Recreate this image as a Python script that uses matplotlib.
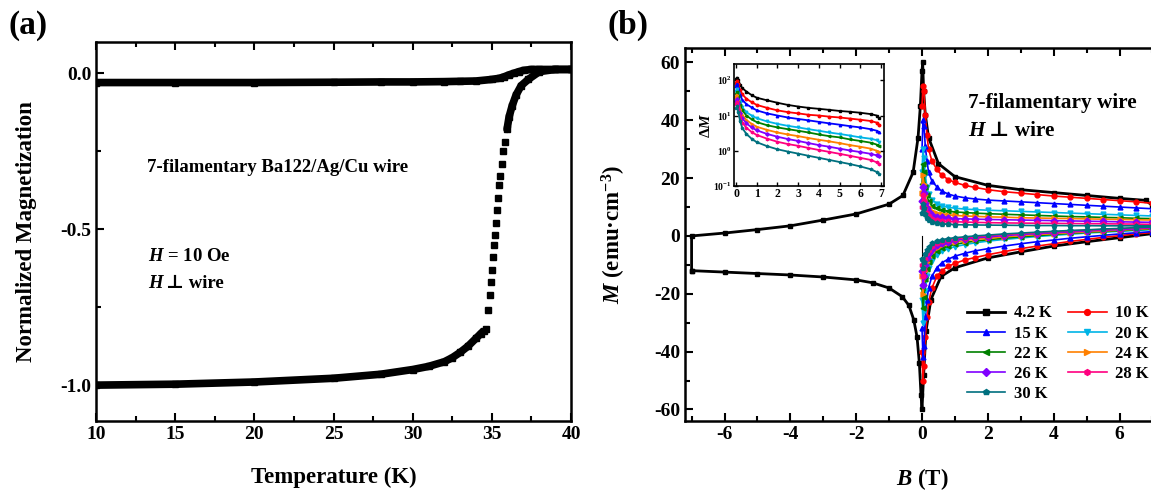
import numpy as np
import matplotlib
matplotlib.use("Agg")
import matplotlib.pyplot as plt
from matplotlib.ticker import MultipleLocator, FormatStrFormatter, LogLocator, NullLocator

plt.rcParams['font.family'] = ['Liberation Serif', 'DejaVu Serif']
plt.rcParams['font.weight'] = 'bold'
plt.rcParams['axes.labelweight'] = 'bold'
plt.rcParams['axes.unicode_minus'] = False
plt.rcParams['mathtext.fontset'] = 'custom'
plt.rcParams['mathtext.rm'] = 'Liberation Serif:bold'
plt.rcParams['mathtext.it'] = 'Liberation Serif:italic:bold'
plt.rcParams['mathtext.bf'] = 'Liberation Serif:bold'

# ---------- (a) normalized magnetization vs temperature ----------
fc_T = [10, 15, 20, 25, 28, 30, 32, 33, 34, 35, 35.5, 35.8, 36.1, 36.4, 36.7, 37, 37.5, 38, 39, 40]
fc_M = [-0.03, -0.03, -0.03, -0.029, -0.028, -0.028, -0.027, -0.026, -0.025, -0.02, -0.016,
        -0.011, -0.005, 0.0, 0.005, 0.009, 0.012, 0.012, 0.012, 0.012]

zfc_T = [10, 15, 20, 25, 28, 30, 31, 32, 32.5, 33, 33.5, 34, 34.3, 34.5,
         34.64, 34.76, 34.9, 34.95, 35.0, 35.08, 35.14, 35.2, 35.27, 35.33, 35.4, 35.46,
         35.52, 35.65, 35.7, 35.84, 35.96, 36.09, 36.28, 36.53, 36.85,
         37.3, 38.0, 39.0, 40.0]
zfc_M = [-1.0, -0.997, -0.99, -0.978, -0.965, -0.95, -0.94, -0.925, -0.912, -0.895, -0.875, -0.85, -0.835, -0.825,
         -0.82, -0.76, -0.71, -0.67, -0.63, -0.59, -0.55, -0.52, -0.48, -0.44, -0.40, -0.36,
         -0.33, -0.29, -0.25, -0.22, -0.18, -0.14, -0.105, -0.07, -0.04,
         -0.02, 0.005, 0.012, 0.012]

# ---------- (b) M-B loops ----------
# 4.2 K full loop (field swept -7 -> 7 lower branch, 7 -> -7 upper branch)
blk_low_B = [-7, -6, -5, -4, -3, -2, -1.5, -1, -0.6, -0.4, -0.25, -0.15, -0.08, -0.03, 0.0,
             0.05, 0.12, 0.27, 0.58, 1, 2, 3, 4, 5, 6, 7]
blk_low_M = [-12, -12.5, -13, -13.5, -14.2, -15.2, -16.2, -18, -21, -24, -29, -35, -44, -55, -60,
             -48, -33, -22, -14, -11, -7.6, -5.5, -3.5, -2, -0.6, 0.8]
blk_up_B = [7, 6.8, 6, 5, 4, 3, 2, 1, 0.5, 0.2, 0.1, 0.05, 0.02, 0.0,
            -0.05, -0.12, -0.27, -0.58, -1, -2, -3, -4, -5, -6, -7]
blk_up_M = [10.5, 12.3, 13, 14, 15, 16, 17.5, 20.5, 25, 34, 42, 50, 60, 57,
            45, 34, 22, 14, 11, 7.6, 5.5, 3.5, 2.2, 1, 0]
virgin_B = [0.0, 0.0]
virgin_M = [0.0, -9.0]

# colored loops, B >= 0 only
B_grid = [0.0, 0.03, 0.06, 0.1, 0.15, 0.2, 0.3, 0.45, 0.6, 0.8, 1.0, 1.3, 1.6, 2.0,
          2.5, 3.0, 3.5, 4.0, 4.5, 5.0, 5.5, 6.0, 6.5, 7.0]

up_10K = [45, 52, 50, 42, 35, 30, 26, 23, 21, 19.5, 18.5, 17.5, 16.8, 16.0, 15.3, 14.8, 14.3, 13.8, 13.4, 13.0, 12.6, 12.2, 11.8, 11.3]
up_15K = [30, 40, 38, 31, 26, 22, 19, 17, 15.5, 14.5, 13.8, 13.2, 12.8, 12.4, 12.1, 11.8, 11.5, 11.2, 10.9, 10.6, 10.3, 10.0, 9.7, 9.4]
up_20K = [22, 30, 27, 21, 17, 14.5, 12.5, 11.2, 10.4, 9.9, 9.6, 9.3, 9.1, 8.9, 8.7, 8.5, 8.3, 8.1, 7.9, 7.7, 7.5, 7.3, 7.1, 6.9]
up_22K = [18, 25, 22, 17, 14, 12, 10.5, 9.5, 9.0, 8.6, 8.3, 8.1, 7.9, 7.7, 7.5, 7.3, 7.1, 6.9, 6.7, 6.6, 6.4, 6.3, 6.1, 6.0]
up_24K = [15, 21, 18, 14, 11.5, 10, 8.8, 8.0, 7.6, 7.3, 7.1, 6.9, 6.8, 6.6, 6.5, 6.3, 6.2, 6.1, 6.0, 5.9, 5.8, 5.7, 5.6, 5.5]
up_26K = [12, 17, 15, 11.5, 9.5, 8.3, 7.3, 6.7, 6.4, 6.2, 6.0, 5.9, 5.8, 5.7, 5.6, 5.5, 5.4, 5.3, 5.2, 5.1, 5.0, 4.9, 4.8, 4.7]
up_28K = [10, 14, 12, 9.5, 7.8, 6.8, 6.0, 5.5, 5.2, 5.0, 4.9, 4.8, 4.7, 4.6, 4.5, 4.45, 4.4, 4.35, 4.3, 4.25, 4.2, 4.15, 4.1, 4.0]
up_30K = [8, 11, 9.5, 7.5, 6.2, 5.4, 4.8, 4.4, 4.2, 4.0, 3.9, 3.85, 3.8, 3.75, 3.7, 3.65, 3.6, 3.6, 3.55, 3.55, 3.5, 3.5, 3.5, 3.5]

low_10K = [-40, -50, -45, -35, -28, -23, -18, -14, -12, -10.5, -9.5, -8.3, -7.5, -6.5, -5.4, -4.4, -3.5, -2.7, -1.9, -1.2, -0.5, 0.1, 0.7, 1.2]
low_15K = [-32, -42, -38, -28, -22, -18, -14, -11, -9.3, -8, -7, -6, -5.2, -4.4, -3.5, -2.7, -2, -1.4, -0.8, -0.3, 0.2, 0.7, 1.1, 1.5]
low_20K = [-22, -30, -26, -19, -14, -11, -8.5, -6.5, -5.3, -4.4, -3.7, -3, -2.4, -1.8, -1.2, -0.7, -0.2, 0.2, 0.6, 1.0, 1.3, 1.6, 1.9, 2.2]
low_22K = [-18, -25, -21, -15, -11.5, -9, -7, -5.3, -4.3, -3.5, -2.9, -2.3, -1.8, -1.3, -0.8, -0.3, 0.1, 0.5, 0.9, 1.2, 1.5, 1.8, 2.1, 2.4]
low_24K = [-14, -20, -17, -12, -9, -7.2, -5.5, -4.2, -3.3, -2.6, -2.1, -1.6, -1.2, -0.8, -0.3, 0.1, 0.5, 0.8, 1.1, 1.4, 1.7, 2.0, 2.3, 2.6]
low_26K = [-12, -17, -14, -10, -7.5, -6, -4.5, -3.3, -2.6, -2, -1.5, -1.1, -0.7, -0.3, 0.1, 0.5, 0.8, 1.1, 1.4, 1.7, 2.0, 2.2, 2.5, 2.8]
low_28K = [-10, -14, -11.5, -8, -6, -4.8, -3.5, -2.5, -1.9, -1.4, -1.0, -0.6, -0.3, 0.1, 0.5, 0.8, 1.1, 1.4, 1.7, 2.0, 2.2, 2.5, 2.7, 3.0]
low_30K = [-8, -11, -9, -6.3, -4.7, -3.7, -2.6, -1.8, -1.3, -0.9, -0.6, -0.3, 0.0, 0.3, 0.7, 1.0, 1.3, 1.6, 1.9, 2.1, 2.4, 2.6, 2.9, 3.1]

# inset: delta M vs B
inset_B = [0, 0.05, 0.1, 0.2, 0.3, 0.5, 0.75, 1, 1.5, 2, 2.5, 3, 3.5, 4, 4.5, 5, 5.5, 6, 6.5, 6.8, 6.9]
dM_4K = [110, 120, 105, 75, 60, 48, 38, 32, 27, 23, 20, 18, 16.5, 15.5, 14.5, 13.5, 12.8, 12, 11, 10, 8.5]
dM_10K = [85, 95, 80, 52, 40, 30, 24, 20, 16.5, 14, 12.5, 11.5, 10.5, 10, 9.3, 8.8, 8.2, 7.6, 7, 6.3, 5.5]
dM_15K = [70, 78, 62, 38, 28, 21, 17, 14, 11.5, 10, 8.8, 8, 7.3, 6.6, 6, 5.5, 5, 4.6, 4.1, 3.7, 3.3]
dM_20K = [50, 58, 45, 25, 17, 12.5, 10, 8.4, 6.8, 5.8, 5.1, 4.6, 4.1, 3.7, 3.3, 3.0, 2.7, 2.4, 2.2, 2.0, 1.8]
dM_22K = [42, 48, 36, 20, 14, 10, 7.8, 6.5, 5.3, 4.6, 4.1, 3.7, 3.3, 2.9, 2.6, 2.4, 2.1, 1.9, 1.7, 1.5, 1.4]
dM_24K = [33, 38, 28, 15, 10.5, 7.5, 5.8, 4.8, 3.9, 3.3, 2.9, 2.6, 2.3, 2.05, 1.85, 1.65, 1.45, 1.3, 1.15, 1.0, 0.95]
dM_26K = [26, 30, 22, 12, 8.3, 6, 4.6, 3.8, 3, 2.5, 2.15, 1.9, 1.65, 1.45, 1.3, 1.15, 1.02, 0.92, 0.82, 0.74, 0.7]
dM_28K = [21, 25, 18, 9.5, 6.3, 4.5, 3.4, 2.8, 2.2, 1.8, 1.55, 1.38, 1.2, 1.05, 0.93, 0.82, 0.72, 0.63, 0.55, 0.47, 0.43]
dM_30K = [16, 19, 13, 6.8, 4.4, 3, 2.2, 1.75, 1.35, 1.1, 0.95, 0.83, 0.72, 0.63, 0.55, 0.48, 0.42, 0.36, 0.3, 0.25, 0.22]

temps = ['4.2 K', '10 K', '15 K', '20 K', '22 K', '24 K', '26 K', '28 K', '30 K']
colors = ['black', '#FF0000', '#0000FF', '#00B4E6', '#008000', '#FF8000', '#8000FF', '#FF0080', '#00707F']
markers = ['s', 'o', '^', 'v', '<', '>', 'D', 'h', 'p']

fig = plt.figure(figsize=(11.51, 4.91), dpi=100)
W, H = 1151, 491
axA = fig.add_axes([96 / W, 1 - 421 / H, 475 / W, 379 / H])
axB = fig.add_axes([685 / W, 1 - 421 / H, 474 / W, 373 / H])
axI = fig.add_axes([734 / W, 1 - 186 / H, 150 / W, 122 / H])


def style(ax, size=14):
    for s in ax.spines.values():
        s.set_linewidth(1.8)
    ax.tick_params(which='both', direction='in', top=True, labelsize=size, width=1.5)
    ax.tick_params(which='major', length=6)
    ax.tick_params(which='minor', length=3.5)


# ---- panel (a)
zT = np.array(zfc_T)
zM = np.array(zfc_M)
axA.plot(fc_T, fc_M, color='black', lw=5.5, solid_capstyle='butt')
axA.plot(fc_T, fc_M, 's', color='black', ms=5)
axA.plot(zT[zT <= 34.5], zM[zT <= 34.5], color='black', lw=5.5, solid_capstyle='butt')
axA.plot(zT[zT >= 35.96], zM[zT >= 35.96], color='black', lw=5.5, solid_capstyle='round')
axA.plot(zT, zM, 's', color='black', ms=5)
axA.set_xlim(10, 40)
axA.set_ylim(-1.115, 0.1)
axA.xaxis.set_major_locator(MultipleLocator(5))
axA.xaxis.set_minor_locator(MultipleLocator(2.5))
axA.yaxis.set_major_locator(MultipleLocator(0.5))
axA.yaxis.set_minor_locator(MultipleLocator(0.25))
axA.yaxis.set_major_formatter(FormatStrFormatter('%.1f'))
style(axA)
axA.set_xlabel('Temperature (K)', fontsize=16.5)
axA.set_ylabel('Normalized Magnetization', fontsize=16.5)
axA.xaxis.set_label_coords(0.5, -0.12)
axA.yaxis.set_label_coords(-0.124, 0.5)
axA.text(0.107, 0.668, '7-filamentary Ba122/Ag/Cu wire', transform=axA.transAxes,
         fontsize=13.5, va='center', ha='left')
axA.text(0.109, 0.435, '$H$ = 10 Oe', transform=axA.transAxes, fontsize=13.5, va='center')
axA.text(0.109, 0.364, 'H', transform=axA.transAxes, fontsize=13.5, va='center', style='italic')
axA.text(0.147, 0.364, '\u22a5 wire', transform=axA.transAxes, fontsize=13.5, va='center')

# ---- panel (b)
blk_B = blk_low_B + blk_up_B + [blk_low_B[0]]
blk_M = blk_low_M + blk_up_M + [blk_low_M[0]]
lines = []
ln, = axB.plot(blk_B, blk_M, color='black', marker='s', ms=3.5, lw=2, label=temps[0], zorder=3)
lines.append(ln)
axB.plot(virgin_B, virgin_M, color='black', lw=0.8, zorder=3)

ups = [up_10K, up_15K, up_20K, up_22K, up_24K, up_26K, up_28K, up_30K]
lows = [low_10K, low_15K, low_20K, low_22K, low_24K, low_26K, low_28K, low_30K]
for i in range(8):
    bb = B_grid + B_grid[::-1]
    mm = lows[i] + ups[i][::-1]
    ln, = axB.plot(bb, mm, color=colors[i + 1], marker=markers[i + 1], ms=3.5, lw=1.2,
                   label=temps[i + 1], zorder=4)
    lines.append(ln)

axB.set_xlim(-7.2, 7.2)
axB.set_ylim(-64, 65)
axB.xaxis.set_major_locator(MultipleLocator(2))
axB.xaxis.set_minor_locator(MultipleLocator(1))
axB.yaxis.set_major_locator(MultipleLocator(20))
axB.yaxis.set_minor_locator(MultipleLocator(10))
style(axB)
axB.set_xlabel('$B$ (T)', fontsize=16.5)
axB.set_ylabel('$M$ (emu\u00b7cm$^{-3}$)', fontsize=16.5)
axB.xaxis.set_label_coords(0.5, -0.12)
axB.yaxis.set_label_coords(-0.12, 0.5)
axB.text(0.597, 0.853, '7-filamentary wire', transform=axB.transAxes, fontsize=15.3, va='center')
axB.text(0.597, 0.777, 'H', transform=axB.transAxes, fontsize=15.3, va='center', style='italic')
axB.text(0.641, 0.777, '\u22a5 wire', transform=axB.transAxes, fontsize=15.3, va='center')
# legend filled row by row: left column 4.2, 15, 22, 26, 30; right column 10, 20, 24, 28
order = [0, 2, 4, 6, 8, 1, 3, 5, 7]
axB.legend([lines[k] for k in order], [temps[k] for k in order],
           loc='upper left', bbox_to_anchor=(0.595, 0.31), ncol=2, frameon=False,
           fontsize=12, handlelength=2.3, handletextpad=0.5, columnspacing=1.0,
           labelspacing=0.25, borderpad=0, borderaxespad=0, numpoints=1, markerscale=1.2)

# ---- inset
dMs = [dM_4K, dM_10K, dM_15K, dM_20K, dM_22K, dM_24K, dM_26K, dM_28K, dM_30K]
for i in range(9):
    axI.plot(inset_B, dMs[i], color=colors[i], marker=markers[i], ms=1.8, lw=1.3)
axI.set_yscale('log')
axI.set_xlim(-0.1, 7.15)
axI.set_ylim(0.1, 290)
axI.xaxis.set_major_locator(MultipleLocator(1))
axI.yaxis.set_major_locator(LogLocator(base=10, numticks=10))
axI.yaxis.set_minor_locator(NullLocator())
for s in axI.spines.values():
    s.set_linewidth(1.2)
axI.tick_params(which='both', direction='in', top=True, right=True, width=1, length=3)
axI.tick_params(axis='x', labelsize=8.5, pad=1.5)
axI.tick_params(axis='y', labelsize=7, pad=1.5)
axI.set_ylabel('\u0394$M$', fontsize=11, labelpad=0)

fig.text(0.007, 0.949, '(a)', fontsize=24, va='center', ha='left')
fig.text(0.528, 0.949, '(b)', fontsize=24, va='center', ha='left')

fig.savefig('out.png', dpi=100)
